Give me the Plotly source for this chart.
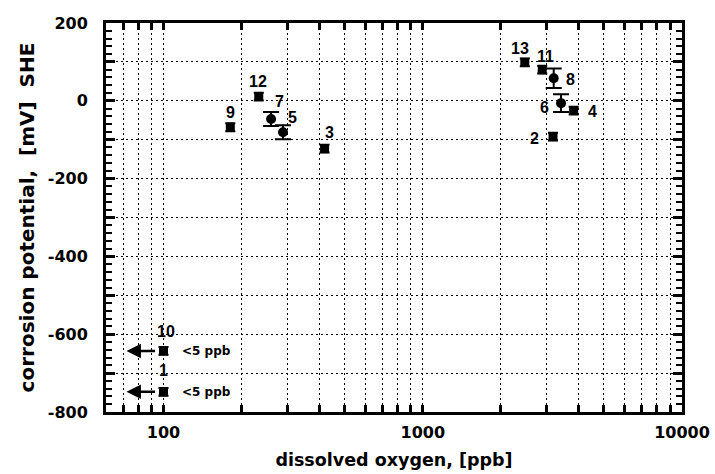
import math
import plotly.graph_objects as go

# Corrosion potential vs dissolved oxygen, one entry per sample
sample_ids = [1, 2, 3, 4, 5, 6, 7, 8, 9, 10, 11, 12, 13]
dissolved_oxygen_ppb = [100, 3180, 418, 3820, 289, 3415, 260, 3200, 181, 100, 2890, 233, 2475]
potential_mV = [-748, -92, -123, -25, -81, -6, -47, 58, -68, -643, 80, 11, 99]
potential_err_mV = [10, 10, 10, 10, 18, 23, 18, 25, 10, 10, 10, 10, 10]
marker_kind = ["sq", "sq", "sq", "sq", "ci", "ci", "ci", "ci", "sq", "sq", "sq", "sq", "sq"]
below_detection = [1, 10]          # samples with "<5 ppb" oxygen
below_detection_text = "<5 ppb"
arrow_tip_ppb = 72

x_major = [100, 1000, 10000]
x_grid = [60, 70, 80, 90, 100, 200, 300, 400, 500, 600, 700, 800, 900,
          1000, 2000, 3000, 4000, 5000, 6000, 7000, 8000, 9000, 10000]
y_grid = list(range(-800, 201, 100))
y_labels = [str(v) if v % 200 == 0 else "" for v in y_grid]

# label placement (pixel offsets from each marker), in sample_ids order
label_offsets = {1: (0, 21), 2: (-19, -2), 3: (5, 16), 4: (19, -1), 5: (9, 15),
                 6: (-17, -4), 7: (8, 18), 8: (17, -1), 9: (0, 15), 10: (2, 19),
                 11: (3, 13), 12: (-1, 15), 13: (-5, 14)}

FONT = "DejaVu Sans, Liberation Sans, Arial, sans-serif"
LABEL_FONT = "Liberation Sans, Arial, Helvetica, sans-serif"

fig = go.Figure()

for kind, symbol, size, cap in [("sq", "square", 9, 5), ("ci", "circle", 10, 8)]:
    idx = [i for i, k in enumerate(marker_kind) if k == kind]
    fig.add_trace(go.Scatter(
        x=[dissolved_oxygen_ppb[i] for i in idx],
        y=[potential_mV[i] for i in idx],
        mode="markers",
        marker=dict(symbol=symbol, size=size, color="black"),
        error_y=dict(type="data", array=[potential_err_mV[i] for i in idx],
                     width=cap, thickness=2, color="black"),
        showlegend=False,
        hoverinfo="skip",
    ))

annotations = []
for sid, xv, yv in zip(sample_ids, dissolved_oxygen_ppb, potential_mV):
    dx, dy = label_offsets[sid]
    annotations.append(dict(
        x=math.log10(xv), y=yv, xref="x", yref="y", text=f"<b>{sid}</b>",
        showarrow=False, xshift=dx, yshift=dy,
        font=dict(family=LABEL_FONT, size=16, color="black"),
    ))

for sid in below_detection:
    i = sample_ids.index(sid)
    xv, yv = dissolved_oxygen_ppb[i], potential_mV[i]
    annotations.append(dict(
        x=math.log10(arrow_tip_ppb), y=yv, ax=math.log10(xv * 0.94), ay=yv,
        xref="x", yref="y", axref="x", ayref="y", text="",
        showarrow=True, arrowhead=2, arrowsize=1.2, arrowwidth=2.4, arrowcolor="black",
    ))
    annotations.append(dict(
        x=math.log10(xv), y=yv, xref="x", yref="y", text=f"<b>{below_detection_text}</b>",
        showarrow=False, xanchor="left", xshift=16,
        font=dict(family=FONT, size=12, color="black"),
    ))

axis_common = dict(
    showline=True, linewidth=3, linecolor="black", mirror="allticks",
    showgrid=True, gridcolor="black", gridwidth=1, griddash="2px,3px",
    ticks="inside", tickcolor="black", zeroline=False,
    tickfont=dict(family=FONT, size=16, color="black", weight="bold"),
)

fig.update_xaxes(
    type="log", range=[math.log10(60), 4],
    tickvals=x_grid,
    ticktext=[f"{v}" if v in x_major else "" for v in x_grid],
    ticklen=7, tickwidth=2.5, ticklabelstandoff=4,
    title=dict(text="dissolved oxygen, [ppb]", standoff=13,
               font=dict(family=FONT, size=17.5, color="black", weight="bold")),
    **axis_common,
)
fig.update_yaxes(
    range=[-800, 200], tickvals=y_grid, ticktext=y_labels,
    ticklen=9, tickwidth=2.5, ticklabelstandoff=12,
    minor=dict(dtick=20, ticks="inside", ticklen=6, tickwidth=2,
               tickcolor="black", showgrid=False),
    title=dict(text="corrosion potential,\u00a0\u00a0[mV]\u00a0\u00a0SHE", standoff=8,
               font=dict(family=FONT, size=20, color="black", weight="bold")),
    **axis_common,
)

fig.update_layout(
    width=715, height=474,
    margin=dict(l=106, r=33, t=23, b=62, autoexpand=False),
    paper_bgcolor="white", plot_bgcolor="white",
    annotations=annotations,
)

fig.write_html("out.html")
